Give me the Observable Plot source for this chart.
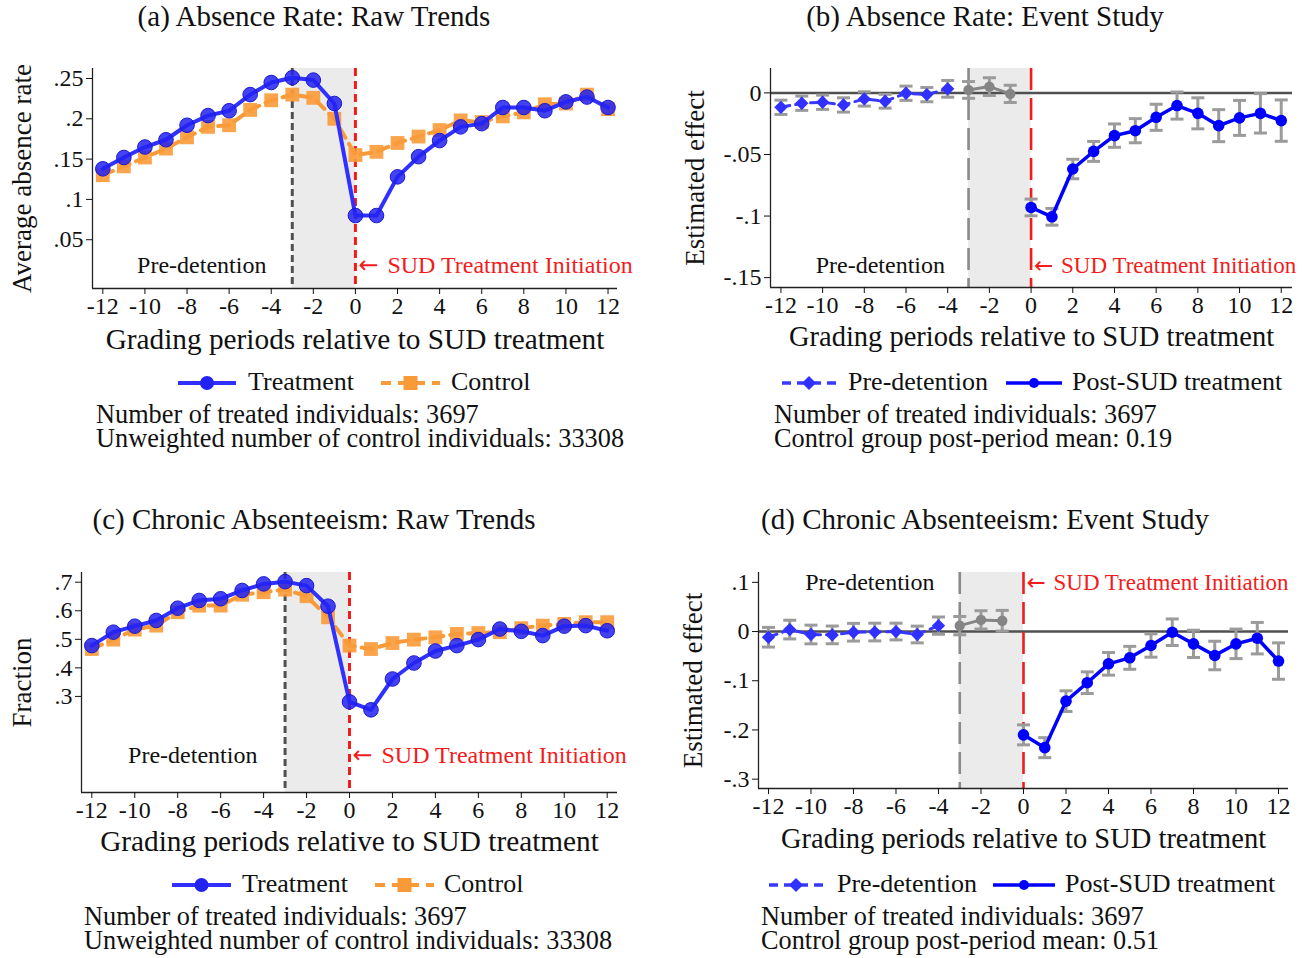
<!DOCTYPE html>
<html><head><meta charset="utf-8">
<script src="https://cdn.jsdelivr.net/npm/d3@7"></script>
<script src="https://cdn.jsdelivr.net/npm/@observablehq/plot@0.6"></script>
<style>
html,body{margin:0;padding:0;background:#fff;}
#root{position:relative;width:1307px;height:958px;overflow:hidden;font-family:"Liberation Serif","Times New Roman",serif;color:#111;}
.abs{position:absolute;white-space:nowrap;}
</style></head><body><div id="root"></div>
<script>
// ---------------- data ----------------
const periods = [-12,-11,-10,-9,-8,-7,-6,-5,-4,-3,-2,-1,0,1,2,3,4,5,6,7,8,9,10,11,12];
const prePeriods = [-12,-11,-10,-9,-8,-7,-6,-5,-4];
const gapPeriods = [-3,-2,-1];
const postPeriods = [0,1,2,3,4,5,6,7,8,9,10,11,12];
const xTicks = [-12,-10,-8,-6,-4,-2,0,2,4,6,8,10,12];
const shadeRange = [-3, 0];
const detentionLine = [-3];
const treatmentLine = [0];
const zeroLine = [0];

// (a) absence rate raw trends
const absTreat   = [0.138,0.152,0.165,0.174,0.192,0.204,0.210,0.230,0.245,0.251,0.248,0.219,0.080,0.080,0.128,0.153,0.173,0.190,0.194,0.214,0.214,0.210,0.221,0.227,0.214];
const absControl = [0.130,0.141,0.152,0.163,0.177,0.190,0.192,0.211,0.223,0.230,0.226,0.200,0.155,0.159,0.170,0.178,0.186,0.198,0.196,0.203,0.208,0.218,0.219,0.230,0.212];
const absRawTicks = [0.05,0.1,0.15,0.2,0.25];

// (b) absence rate event study
const absPreEst  = [-0.0117,-0.0084,-0.0076,-0.0098,-0.0049,-0.0068,-0.0003,-0.0014,0.0033];
const absPreCI   = [0.0058,0.0058,0.0058,0.0058,0.0058,0.0056,0.0058,0.0058,0.0068];
const absGapEst  = [0.0024,0.0051,-0.0008];
const absGapCI   = [0.0068,0.0072,0.0070];
const absPostEst = [-0.093,-0.1006,-0.0618,-0.0475,-0.0347,-0.0307,-0.0198,-0.0103,-0.0166,-0.0266,-0.0203,-0.0166,-0.0225];
const absPostCI  = [0.0068,0.0068,0.0079,0.0081,0.0095,0.0098,0.0106,0.0110,0.0126,0.0130,0.0142,0.0160,0.0168];
const absESTicks = [0,-0.05,-0.1,-0.15];

// (c) chronic absenteeism raw trends
const chronTreat   = [0.478,0.525,0.546,0.566,0.609,0.636,0.642,0.671,0.694,0.702,0.688,0.616,0.281,0.253,0.361,0.417,0.459,0.478,0.499,0.536,0.528,0.513,0.546,0.548,0.530];
const chronControl = [0.466,0.499,0.534,0.548,0.595,0.618,0.618,0.656,0.665,0.674,0.651,0.577,0.478,0.466,0.487,0.499,0.507,0.519,0.522,0.525,0.539,0.548,0.554,0.560,0.560];
const chronRawTicks = [0.3,0.4,0.5,0.6,0.7];

// (d) chronic absenteeism event study
const chronPreEst  = [-0.0116,0.004,-0.006,-0.0068,-0.0014,-0.001,0,-0.006,0.012];
const chronPreCI   = [0.020,0.019,0.019,0.018,0.018,0.018,0.017,0.017,0.0176];
const chronGapEst  = [0.012,0.0237,0.022];
const chronGapCI   = [0.0186,0.0186,0.021];
const chronPostEst = [-0.21,-0.236,-0.1415,-0.104,-0.0656,-0.0534,-0.0284,-0.0014,-0.025,-0.0487,-0.025,-0.0135,-0.060];
const chronPostCI  = [0.0203,0.0203,0.021,0.022,0.023,0.0233,0.0237,0.027,0.0277,0.029,0.030,0.032,0.037];
const chronESTicks = [0.1,0,-0.1,-0.2,-0.3];

// annotation anchors (data space) : [x of "Pre-detention" centre, y]
const annA = [-7.3, 0.018];
const annB = [-7.23, -0.140];
const annC = [-7.3, 0.092];
const annD = [-7.23, 0.100];

// ---------------- style ----------------
const BLUE = "#3030ff", BLUE_DOT = "#2222f2", ORANGE = "#f99a38", RED = "#f21c1c", GREY_CI = "#9b9b9b", GREY_PT = "#858585", SHADE = "#ebebeb";
const FONT = "Liberation Serif, Times New Roman, serif";
const root = document.getElementById("root");

const fmtY = d => d === 0 ? "0" : String(d).replace(/^(-?)0\./, "$1.");
const capSymbol = { draw(ctx, size) { const w = Math.sqrt(size / Math.PI); ctx.moveTo(-w, 0); ctx.lineTo(w, 0); } };

function rows(xs, ys, ci) { return xs.map((x, i) => ({x, y: ys[i], lo: ci ? ys[i] - ci[i] : null, hi: ci ? ys[i] + ci[i] : null})); }

function makePanel({svg, frame, xDomain, yDomain, yTicks, yLabel, yLabelDx, xLabelDy, xLabelSize, marks}) {
  const chart = Plot.plot({
    width: svg.w, height: svg.h,
    marginLeft: frame.x0 - svg.x, marginRight: svg.x + svg.w - frame.x1,
    marginTop: frame.y0 - svg.y, marginBottom: svg.y + svg.h - frame.y1,
    x: {domain: xDomain}, y: {domain: yDomain},
    style: {fontFamily: FONT, fontSize: "24px", background: "transparent", overflow: "visible", color: "#111"},
    marks: [
      ...marks,
      Plot.ruleX([xDomain[0]], {stroke: "#222", strokeWidth: 1.3}),
      Plot.ruleY([yDomain[0]], {stroke: "#222", strokeWidth: 1.3}),
      Plot.axisX({ticks: xTicks, tickFormat: d => String(d), tickSize: 6, tickPadding: 2, label: null, fontSize: 24}),
      Plot.axisY({ticks: yTicks, tickFormat: fmtY, tickSize: 6, tickPadding: 3, label: null, fontSize: 24}),
      Plot.text([yLabel], {frameAnchor: "left", dx: yLabelDx, rotate: -90, textAnchor: "middle", lineAnchor: "middle", fontSize: 27, fill: "#111"}),
      Plot.text(["Grading periods relative to SUD treatment"], {frameAnchor: "bottom", dy: xLabelDy, textAnchor: "middle", lineAnchor: "middle", fontSize: xLabelSize, fill: "#111"})
    ]
  });
  const div = document.createElement("div");
  div.className = "abs";
  div.style.left = svg.x + "px"; div.style.top = svg.y + "px"; div.style.width = svg.w + "px";
  div.appendChild(chart);
  root.appendChild(div);
}

function shade() {
  return [Plot.rect([shadeRange], {x1: d => d[0], x2: d => d[1], fill: SHADE})];
}
function vlines(dashGrey, dashRed, greyColor, lw) {
  return [
    Plot.ruleX(detentionLine, {stroke: greyColor, strokeWidth: lw, strokeDasharray: dashGrey}),
    Plot.ruleX(treatmentLine, {stroke: RED, strokeWidth: lw, strokeDasharray: dashRed})
  ];
}
function annotations(ann, fs, gap) {
  return [
    Plot.text([ann], {x: d => d[0], y: d => d[1], text: () => "Pre-detention", fontSize: 24, fill: "#111"}),
    Plot.text([ann], {x: () => 0, y: d => d[1], text: () => "\u2190", textAnchor: "start", dx: 3, fontSize: fs, fontFamily: "DejaVu Sans", fill: RED}),
    Plot.text([ann], {x: () => 0, y: d => d[1], text: () => "SUD Treatment Initiation", textAnchor: "start", dx: gap, fontSize: fs, fill: RED})
  ];
}
function rawMarks(treat, control, ann) {
  const t = rows(periods, treat), c = rows(periods, control);
  return [
    ...shade(),
    ...vlines("7,4", "8,5", "#505050", 3),
    ...annotations(ann, 24, 32),
    Plot.line(c, {x: "x", y: "y", stroke: ORANGE, strokeWidth: 4, strokeDasharray: "11,7"}),
    Plot.dot(c, {x: "x", y: "y", symbol: "square", r: 7.8, fill: ORANGE, fillOpacity: 0.9}),
    Plot.line(t, {x: "x", y: "y", stroke: BLUE, strokeWidth: 4}),
    Plot.dot(t, {x: "x", y: "y", r: 7.3, fill: BLUE_DOT, fillOpacity: 0.85, stroke: "#1a1ad0", strokeWidth: 1})
  ];
}
function esMarks(preE, preC, gapE, gapC, postE, postC, ann) {
  const pre = rows(prePeriods, preE, preC), gap = rows(gapPeriods, gapE, gapC), post = rows(postPeriods, postE, postC);
  const all = [...pre, ...gap, ...post];
  return [
    ...shade(),
    Plot.ruleY(zeroLine, {stroke: "#505050", strokeWidth: 2.5}),
    ...vlines("22,8", "22,8", "#8a8a8a", 2.6),
    ...annotations(ann, 23, 30),
    Plot.ruleX(all, {x: "x", y1: "lo", y2: "hi", stroke: GREY_CI, strokeWidth: 3}),
    Plot.dot(all, {x: "x", y: "lo", symbol: capSymbol, r: 6.5, stroke: GREY_CI, strokeWidth: 3, fill: "none"}),
    Plot.dot(all, {x: "x", y: "hi", symbol: capSymbol, r: 6.5, stroke: GREY_CI, strokeWidth: 3, fill: "none"}),
    Plot.line(gap, {x: "x", y: "y", stroke: GREY_PT, strokeWidth: 3}),
    Plot.dot(gap, {x: "x", y: "y", r: 5.2, fill: GREY_PT}),
    Plot.line(pre, {x: "x", y: "y", stroke: "#3838ff", strokeWidth: 3, strokeDasharray: "9,6"}),
    Plot.dot(pre, {x: "x", y: "y", symbol: "diamond2", r: 6, fill: "#3030ff"}),
    Plot.line(post, {x: "x", y: "y", stroke: "#0000ff", strokeWidth: 3.5}),
    Plot.dot(post, {x: "x", y: "y", r: 5.8, fill: "#0000ff"})
  ];
}

// ---------------- panels ----------------
makePanel({svg: {x: 0, y: 55, w: 650, h: 310}, frame: {x0: 92, x1: 617, y0: 68, y1: 288},
  xDomain: [-12.49, 12.45], yDomain: [-0.0105, 0.2624], yTicks: absRawTicks,
  yLabel: "Average absence rate", yLabelDx: -70, xLabelDy: 51, xLabelSize: 29.3, marks: rawMarks(absTreat, absControl, annA)});
makePanel({svg: {x: 650, y: 55, w: 657, h: 310}, frame: {x0: 770, x1: 1292, y0: 68, y1: 287},
  xDomain: [-12.5, 12.54], yDomain: [-0.158, 0.0198], yTicks: absESTicks,
  yLabel: "Estimated effect", yLabelDx: -75, xLabelDy: 49, xLabelSize: 28.5, marks: esMarks(absPreEst, absPreCI, absGapEst, absGapCI, absPostEst, absPostCI, annB)});
makePanel({svg: {x: 0, y: 560, w: 650, h: 310}, frame: {x0: 81, x1: 617, y0: 572, y1: 792},
  xDomain: [-12.48, 12.48], yDomain: [-0.0365, 0.734], yTicks: chronRawTicks,
  yLabel: "Fraction", yLabelDx: -59, xLabelDy: 49, xLabelSize: 29.3, marks: rawMarks(chronTreat, chronControl, annC)});
makePanel({svg: {x: 650, y: 560, w: 657, h: 310}, frame: {x0: 758, x1: 1288, y0: 572, y1: 788},
  xDomain: [-12.47, 12.47], yDomain: [-0.319, 0.12], yTicks: chronESTicks,
  yLabel: "Estimated effect", yLabelDx: -65, xLabelDy: 50, xLabelSize: 28.5, marks: esMarks(chronPreEst, chronPreCI, chronGapEst, chronGapCI, chronPostEst, chronPostCI, annD)});

// ---------------- html text ----------------
function addText(txt, x, y, fs, opts = {}) {
  const lh = opts.lh || fs;
  const d = document.createElement("div");
  d.className = "abs";
  d.textContent = txt;
  d.style.fontSize = fs + "px";
  d.style.lineHeight = lh + "px";
  d.style.left = x + "px";
  d.style.top = (y - lh * 0.55) + "px";
  if (opts.center) d.style.transform = "translateX(-50%)";
  if (opts.color) d.style.color = opts.color;
  root.appendChild(d);
}
function addSwatch(kind, x0, x1, y) {
  const w = x1 - x0, h = 20, m = w / 2;
  let inner = "";
  if (kind === "treat") inner = `<line x1="0" x2="${w}" y1="10" y2="10" stroke="${BLUE}" stroke-width="4"/><circle cx="${m}" cy="10" r="7" fill="${BLUE_DOT}"/>`;
  if (kind === "control") inner = `<line x1="0" x2="${w}" y1="10" y2="10" stroke="${ORANGE}" stroke-width="4" stroke-dasharray="10,7"/><rect x="${m-7}" y="3" width="14" height="14" fill="${ORANGE}"/>`;
  if (kind === "pre") inner = `<line x1="0" x2="${w}" y1="10" y2="10" stroke="#3838ff" stroke-width="3.5" stroke-dasharray="9,6"/><path d="M${m},3 L${m+7},10 L${m},17 L${m-7},10Z" fill="#3030ff"/>`;
  if (kind === "post") inner = `<line x1="0" x2="${w}" y1="10" y2="10" stroke="#0000ff" stroke-width="3.5"/><circle cx="${m}" cy="10" r="5" fill="#0000ff"/>`;
  const d = document.createElement("div");
  d.className = "abs";
  d.style.left = x0 + "px"; d.style.top = (y - 10) + "px";
  d.innerHTML = `<svg width="${w}" height="${h}" style="display:block">${inner}</svg>`;
  root.appendChild(d);
}

const titles = [["(a) Absence Rate: Raw Trends", 314, 18], ["(b) Absence Rate: Event Study", 985, 18],
                ["(c) Chronic Absenteeism: Raw Trends", 314, 521], ["(d) Chronic Absenteeism: Event Study", 985, 521]];
titles.forEach(([t, x, y]) => addText(t, x, y, 29, {center: true}));

const NOTE = {lh: 22};
addSwatch("treat", 178, 236, 383); addText("Treatment", 248, 383, 26);
addSwatch("control", 381, 440, 383); addText("Control", 451, 383, 26);
addText("Number of treated individuals: 3697", 96, 416, 26.3, NOTE);
addText("Unweighted number of control individuals: 33308", 96, 440, 26.3, NOTE);

addSwatch("pre", 782, 836, 383); addText("Pre-detention", 848, 383, 26);
addSwatch("post", 1006, 1062, 383); addText("Post-SUD treatment", 1072, 383, 26);
addText("Number of treated individuals: 3697", 774, 416, 26.3, NOTE);
addText("Control group post-period mean: 0.19", 774, 440, 26.3, NOTE);

addSwatch("treat", 172, 231, 885); addText("Treatment", 242, 885, 26);
addSwatch("control", 375, 434, 885); addText("Control", 444, 885, 26);
addText("Number of treated individuals: 3697", 84, 918, 26.3, NOTE);
addText("Unweighted number of control individuals: 33308", 84, 942, 26.3, NOTE);

addSwatch("pre", 769, 823, 885); addText("Pre-detention", 837, 885, 26);
addSwatch("post", 993, 1055, 885); addText("Post-SUD treatment", 1065, 885, 26);
addText("Number of treated individuals: 3697", 761, 918, 26.3, NOTE);
addText("Control group post-period mean: 0.51", 761, 942, 26.3, NOTE);
</script>
</body></html>
